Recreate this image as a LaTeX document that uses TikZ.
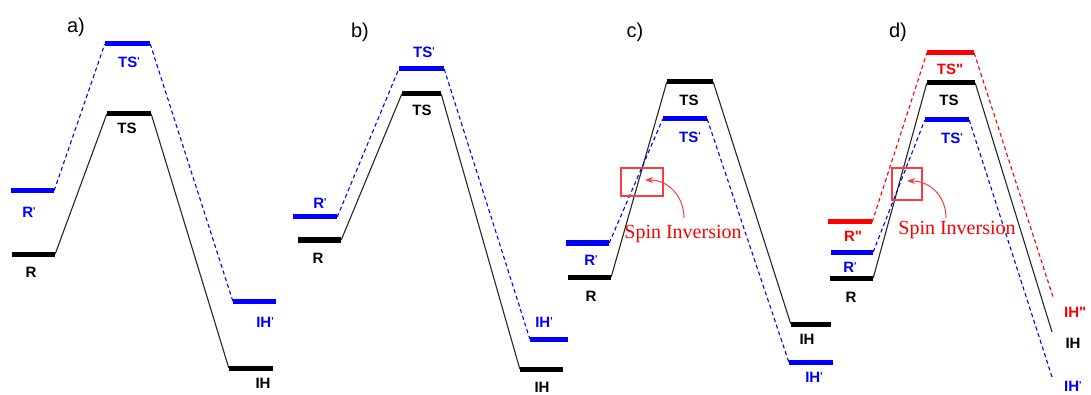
\documentclass[tikz,border=0pt]{standalone}
\usepackage{fontspec}
\usetikzlibrary{arrows.meta}
\newfontfamily\labfont{Liberation Sans}[Ligatures=TeXOff]
\newfontfamily\serfont{Liberation Serif}
\definecolor{myblue}{RGB}{0,0,255}
\definecolor{myred}{RGB}{255,0,0}
\definecolor{boxred}{RGB}{250,60,60}
\newcommand{\pr}{\raisebox{2.5pt}{\fontsize{10}{10}\selectfont '}}
\tikzset{
  bar/.style={rectangle, inner sep=0pt, minimum height=5pt, fill=#1, draw=none},
  lab/.style={inner sep=0pt, text=#1, font=\labfont\bfseries\fontsize{15}{15}\selectfont},
  panel/.style={inner sep=0pt, font=\labfont\fontsize{20}{20}\selectfont},
  solidc/.style={draw=black!85, line width=1.1pt},
  bluec/.style={draw=myblue, line width=1.1pt, dash pattern=on 4pt off 3pt},
  redc/.style={draw=myred, line width=1.1pt, dash pattern=on 4pt off 3pt},
  spin/.style={inner sep=0pt, text=myred, font=\serfont\fontsize{20}{20}\selectfont},
  spinbox/.style={draw=boxred, line width=1.2pt, inner sep=0pt, fill=none},
  sarrow/.style={draw=boxred, line width=1pt, -{Stealth[length=8pt,width=6pt]}}
}
\begin{document}
\begin{tikzpicture}[x=1pt,y=-1pt]
\useasboundingbox (0,0) rectangle (1091,395);
% ---------------- panel a
\node[panel] (pa) at (76,27) {a)};
\node[bar=myblue, minimum width=43pt] (aRp) at (32.5,190.5) {};
\node[bar=black, minimum width=43pt] (aR) at (33.5,254) {};
\node[bar=myblue, minimum width=45pt] (aTSp) at (127.5,44) {};
\node[bar=black, minimum width=44pt] (aTS) at (129,114) {};
\node[bar=myblue, minimum width=43pt] (aIHp) at (254.5,301) {};
\node[bar=black, minimum width=44pt] (aIH) at (251,368) {};
\node[lab=myblue] (laRp) at (29,212) {R\pr};
\node[lab=black] (laR) at (31,272) {R};
\node[lab=myblue] (laTSp) at (129,62) {TS\pr};
\node[lab=black] (laTS) at (127,128) {TS};
\node[lab=myblue] (laIHp) at (265,322) {IH\pr};
\node[lab=black] (laIH) at (263,383) {IH};
\draw[solidc] (aR.east) -- (aTS.west);
\draw[solidc] (aTS.east) -- (aIH.west);
\draw[bluec] (aRp.east) -- (aTSp.west);
\draw[bluec] (aTSp.east) -- (aIHp.west);
% ---------------- panel b
\node[panel] (pb) at (360,32) {b)};
\node[bar=myblue, minimum width=45pt] (bTSp) at (421.5,69) {};
\node[bar=black, minimum width=39pt] (bTS) at (421.5,94) {};
\node[bar=myblue, minimum width=44pt] (bRp) at (315,217) {};
\node[bar=black, minimum width=43pt] (bR) at (319.5,240) {};
\node[bar=myblue, minimum width=38pt] (bIHp) at (549,339) {};
\node[bar=black, minimum width=43pt] (bIH) at (541.5,369) {};
\node[lab=myblue] (lbTSp) at (424,52) {TS\pr};
\node[lab=black] (lbTS) at (422,110) {TS};
\node[lab=myblue] (lbRp) at (320,203) {R\pr};
\node[lab=black] (lbR) at (318,258) {R};
\node[lab=myblue] (lbIHp) at (544,322) {IH\pr};
\node[lab=black] (lbIH) at (542,387) {IH};
\draw[solidc] (bR.east) -- (bTS.west);
\draw[solidc] (bTS.east) -- (bIH.west);
\draw[bluec] (bRp.east) -- (bTSp.west);
\draw[bluec] (bTSp.east) -- (bIHp.west);
% ---------------- panel c
\node[panel] (pc) at (635,32) {c)};
\node[bar=black, minimum width=46pt] (cTS) at (690,82) {};
\node[bar=myblue, minimum width=44pt] (cTSp) at (685,119) {};
\node[bar=myblue, minimum width=43pt] (cRp) at (587.5,243) {};
\node[bar=black, minimum width=43pt] (cR) at (589.5,277) {};
\node[bar=black, minimum width=40pt] (cIH) at (811,324) {};
\node[bar=myblue, minimum width=44pt] (cIHp) at (811,362) {};
\node[lab=black] (lcTS) at (689,100) {TS};
\node[lab=myblue] (lcTSp) at (690,137) {TS\pr};
\node[lab=myblue] (lcRp) at (591,260) {R\pr};
\node[lab=black] (lcR) at (591,296) {R};
\node[lab=black] (lcIH) at (807,339) {IH};
\node[lab=myblue] (lcIHp) at (814,377) {IH\pr};
\draw[solidc] (cR.east) -- (cTS.west);
\draw[solidc] (cTS.east) -- (cIH.west);
\draw[bluec] (cRp.east) -- (cTSp.west);
\draw[bluec] (cTSp.east) -- (cIHp.west);
\node[spinbox, minimum width=42pt, minimum height=28pt] (cbox) at (642,182) {};
\node[spin] (cspin) at (683,234) {Spin Inversion};
\coordinate (cstart) at (684,218);
\coordinate (cend) at (645,180);
\draw[sarrow] (cstart) .. controls (684,196) and (668,180) .. (cend);
% ---------------- panel d
\node[panel] (pd) at (898,32) {d)};
\node[bar=myred, minimum width=47pt] (dTSpp) at (950.5,53) {};
\node[bar=black, minimum width=48pt] (dTS) at (951,83) {};
\node[bar=myblue, minimum width=44pt] (dTSp) at (947,120) {};
\node[bar=myred, minimum width=44pt] (dRpp) at (850,222) {};
\node[bar=myblue, minimum width=42pt] (dRp) at (852,252) {};
\node[bar=black, minimum width=43pt] (dR) at (851.5,278) {};
\coordinate (dIHpp) at (1053,297);
\coordinate (dIH) at (1052,332);
\coordinate (dIHp) at (1052,377);
\node[lab=myred] (ldTSpp) at (950,69) {TS"};
\node[lab=black] (ldTS) at (949,100) {TS};
\node[lab=myblue] (ldTSp) at (952,138) {TS\pr};
\node[lab=myred] (ldRpp) at (853,236) {R"};
\node[lab=myblue] (ldRp) at (850,267) {R\pr};
\node[lab=black] (ldR) at (851,297) {R};
\node[lab=myred, anchor=west] (ldIHpp) at (1064,312) {IH"};
\node[lab=black] (ldIH) at (1073,343) {IH};
\node[lab=myblue, anchor=west] (ldIHp) at (1064,386) {IH\pr};
\draw[solidc] (dR.east) -- (dTS.west);
\draw[solidc] (dTS.east) -- (dIH);
\draw[bluec] (dRp.east) -- (dTSp.west);
\draw[bluec] (dTSp.east) -- (dIHp);
\draw[redc] (dRpp.east) -- (dTSpp.west);
\draw[redc] (dTSpp.east) -- (dIHpp);
\node[spinbox, minimum width=30pt, minimum height=32pt] (dbox) at (907,184) {};
\node[spin] (dspin) at (957,230) {Spin Inversion};
\coordinate (dstart) at (946,218);
\coordinate (dend) at (907,181);
\draw[sarrow] (dstart) .. controls (946,196) and (930,181) .. (dend);
\end{tikzpicture}
\end{document}
